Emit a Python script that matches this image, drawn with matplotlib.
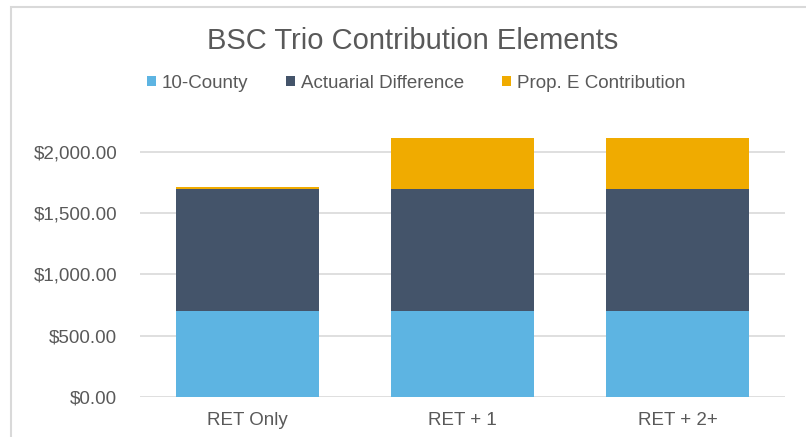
import matplotlib.pyplot as plt
from matplotlib.patches import Rectangle
import numpy as np

plt.rcParams['font.family'] = ['Liberation Sans', 'DejaVu Sans']

categories = ["RET Only", "RET + 1", "RET + 2+"]
county = [700, 700, 700]
actuarial = [993, 993, 993]
prop_e = [22, 416, 416]

series = [
    ("10-County", county, "#5DB4E2"),
    ("Actuarial Difference", actuarial, "#44546A"),
    ("Prop. E Contribution", prop_e, "#F0AB00"),
]

fig = plt.figure(figsize=(8.06, 4.37), dpi=100)
W, H = 806, 437

# chart frame
fig.patches.append(Rectangle((11 / W, -0.05), 1.0, 1 - 7 / H + 0.05, transform=fig.transFigure,
                             fill=False, edgecolor="#D9D9D9", linewidth=1.5))

ax = fig.add_axes([140 / W, 1 - 397 / H, (785 - 140) / W, (397 - 127) / H])

x = np.arange(len(categories))
bottom = np.zeros(len(categories))
for name, vals, color in series:
    ax.bar(x, vals, bottom=bottom, width=0.665, color=color, label=name, zorder=3)
    bottom += np.array(vals)

ax.set_xlim(-0.5, 2.5)
ax.set_ylim(0, 2200)
ax.set_yticks(range(0, 2001, 500))
ax.set_yticklabels([f"${v:,.2f}" for v in range(0, 2001, 500)])
ax.set_xticks(x)
ax.set_xticklabels(categories)
ax.grid(axis="y", color="#D9D9D9", linewidth=1.2, zorder=0)
for s in ax.spines.values():
    s.set_visible(False)
ax.tick_params(length=0, colors="#595959", labelsize=13.5)
ax.tick_params(axis="y", pad=16.5)
ax.tick_params(axis="x", pad=11)

fig.text(413 / W, 1 - 41 / H, "BSC Trio Contribution Elements", ha="center", va="center",
         fontsize=21, color="#595959")
fig.legend(loc="center", bbox_to_anchor=(416 / W, 1 - 83 / H), ncol=3, frameon=False,
           fontsize=13.5, handlelength=0.5, handleheight=0.5, handletextpad=0.3,
           columnspacing=2.0, labelcolor="#595959")

fig.savefig("out.png", dpi=100)
